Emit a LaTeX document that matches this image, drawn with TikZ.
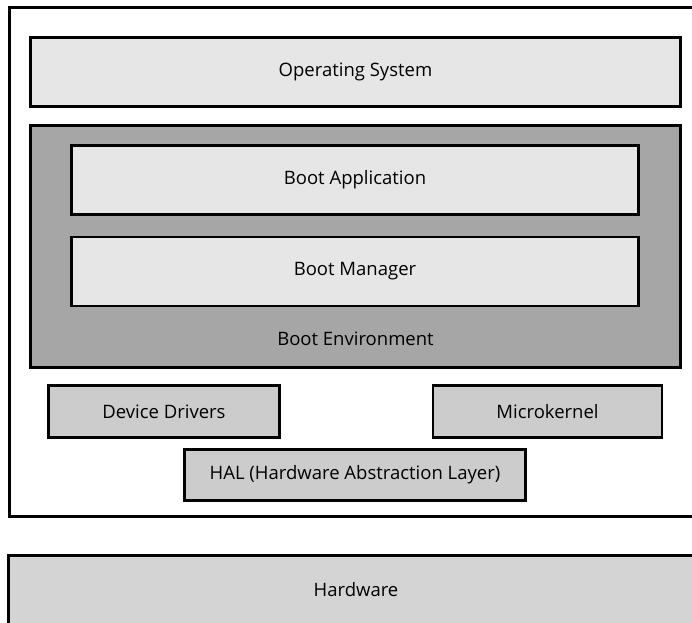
\documentclass[tikz,border=0pt]{standalone}
\usepackage{fontspec}
\setmainfont{Open Sans}
\usetikzlibrary{positioning}
\definecolor{lightbox}{HTML}{E6E6E6}
\definecolor{envbox}{HTML}{A6A6A6}
\definecolor{corebox}{HTML}{CCCCCC}
\definecolor{hwbox}{HTML}{D4D4D4}
\tikzstyle{every node}=[font=\fontsize{18.5}{21}\selectfont]
\tikzstyle{layer}=[draw,rectangle,inner sep=0pt]

\begin{document}
\begin{tikzpicture}[x=1pt,y=-1pt,line width=2.6pt,line join=miter]
		\useasboundingbox (0,0) rectangle (692,622);
		\clip (0,0) rectangle (692,622);
		
		% outer frame, cut off on the right
		\draw (9.5,7.5) rectangle (710,516.5);
		
		\node[layer,fill=lightbox,minimum width=650,minimum height=69] (os) at (355.5,72) {Operating System};
		
		\node[layer,fill=envbox,minimum width=650,minimum height=242] (bootenv) at (355.5,246.5) {};
		\node[layer,fill=lightbox,minimum width=567,minimum height=69] (bootapp) at (355,180) {Boot Application};
		\node[layer,fill=lightbox,minimum width=567,minimum height=69] (bootmgr) at (355,271.5) {Boot Manager};
		\node (envlabel) at (355.5,339) {Boot Environment};
		
		\node[layer,fill=corebox,minimum width=231,minimum height=52] (drivers) at (164,411.5) {Device Drivers};
		\node[layer,fill=corebox,minimum width=229,minimum height=52] (kernel) at (547.5,411.5) {Microkernel};
		\node[layer,fill=corebox,minimum width=341,minimum height=51] (hal) at (355,475) {HAL (Hardware Abstraction Layer)};
		
		% hardware, cut off on the right and below
		\draw[fill=hwbox] (8.5,555.5) rectangle (710,640);
		\node (hw) at (356,590) {Hardware};
		
	\end{tikzpicture}
\end{document}
